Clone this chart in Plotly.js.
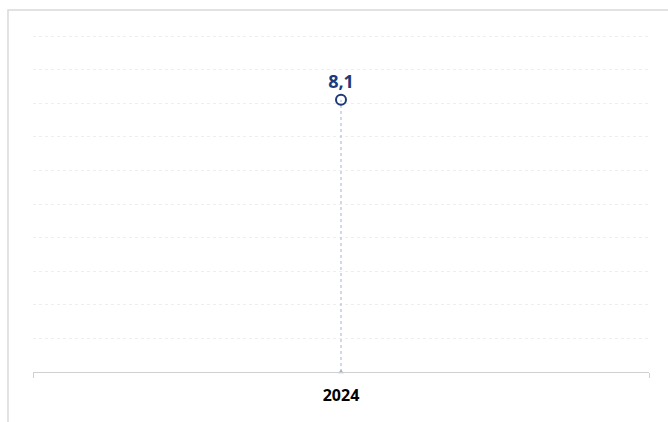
<!DOCTYPE html>
<html>
<head>
<meta charset="utf-8">
<script src="https://cdn.plot.ly/plotly-3.0.1.min.js"></script>
<style>html,body{margin:0;padding:0;background:#fff;}#chart{width:668px;height:422px;}</style>
</head>
<body>
<div id="chart"></div>
<script>
const categories = ['2024'];
const values = [8.1];
const baseline = [0];

const stemX = [];
const stemY = [];
categories.forEach((c, i) => { stemX.push(c, c); stemY.push(baseline[i], values[i]); });

const traces = [
  {
    type: 'scatter', mode: 'lines', x: stemX, y: stemY,
    line: {color: '#9db3d8', width: 1, dash: 'dot'},
    hoverinfo: 'skip', showlegend: false, cliponaxis: false
  },
  {
    type: 'scatter', mode: 'markers', x: categories, y: baseline,
    marker: {symbol: 'triangle-up', size: 5, color: '#9db3d8'},
    hoverinfo: 'skip', showlegend: false, cliponaxis: false
  },
  {
    type: 'scatter', mode: 'markers+text', x: categories, y: values,
    marker: {symbol: 'circle-open', size: 10, color: '#1f3a78', line: {width: 2, color: '#1f3a78'}},
    text: values.map(v => v.toFixed(1).replace('.', ',')),
    textposition: 'top center',
    textfont: {family: 'Open Sans, sans-serif', size: 18, color: '#1f3a78', weight: 'bold'},
    showlegend: false, cliponaxis: false
  }
];

const layout = {
  width: 668, height: 422,
  margin: {l: 33, r: 19, t: 33, b: 50},
  paper_bgcolor: '#ffffff', plot_bgcolor: '#ffffff',
  showlegend: false,
  xaxis: {
    type: 'category', range: [-0.5, 0.5], showgrid: false, zeroline: false,
    showline: true, linecolor: '#d0d0d0', linewidth: 1,
    ticks: 'outside', tickson: 'boundaries', ticklen: 5, tickcolor: '#d0d0d0',
    ticklabelstandoff: 9,
    tickfont: {family: 'Open Sans, sans-serif', size: 16, color: '#000000', weight: 'bold'},
    fixedrange: true
  },
  yaxis: {
    range: [0, 10.09], dtick: 1, showticklabels: false,
    showgrid: true, gridcolor: '#eeeeee', griddash: 'dot', gridwidth: 1,
    zeroline: false, showline: false, ticks: '', fixedrange: true
  },
  shapes: [
    {type: 'path', xref: 'paper', yref: 'paper',
     path: 'M -0.0406 -0.3 L -0.0406 1.0678 L 1.1 1.0678',
     line: {color: '#d9d9d9', width: 1.5}}
  ]
};

Plotly.newPlot('chart', traces, layout, {displayModeBar: false, staticPlot: true});
</script>
</body>
</html>
